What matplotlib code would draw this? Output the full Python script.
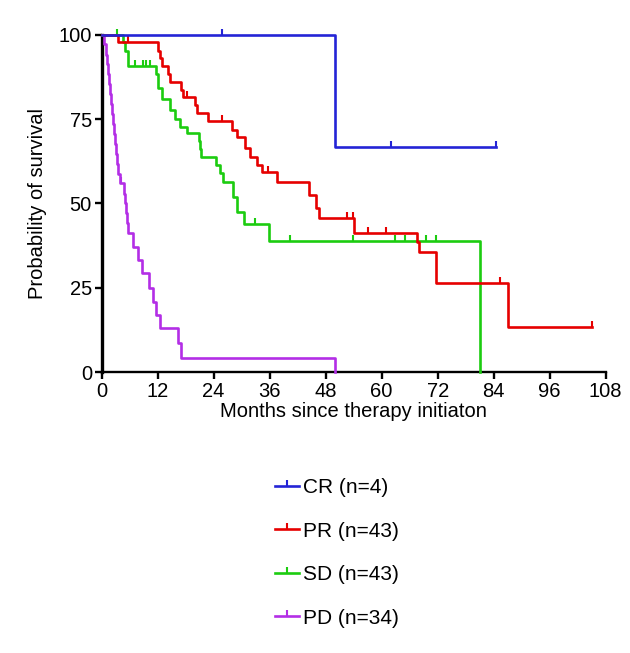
import numpy as np
import matplotlib
matplotlib.use("Agg")
import matplotlib.pyplot as plt
from matplotlib.path import Path
from matplotlib.lines import Line2D

plt.rcParams['font.family'] = ['Liberation Sans', 'DejaVu Sans']

# Kaplan-Meier curves: event times (months) and survival (%) after each event
cr_t = [50.0]
cr_s = [66.7]
cr_end = 84.5
cr_cens = [25.8, 62.1, 84.5]

pr_t = [3.5, 12.0, 12.5, 13.0, 14.3, 14.6, 17.0, 17.5, 20.0, 20.4, 22.8, 27.9, 28.9,
        30.7, 31.8, 33.2, 34.3, 37.5, 44.5, 45.9, 46.6, 54.1, 67.5, 68.0, 71.6, 87.1]
pr_s = [97.7, 95.3, 93.0, 90.7, 88.4, 86.0, 83.7, 81.4, 79.1, 76.7, 74.4, 71.7, 69.8,
        66.3, 63.8, 61.4, 59.3, 56.2, 52.5, 48.5, 45.6, 41.1, 38.4, 35.7, 26.5, 13.4]
pr_end = 105.1
pr_cens = [5.6, 18.2, 25.8, 35.7, 52.5, 53.8, 57.1, 60.9, 85.3, 105.1]

sd_t = [4.5, 5.0, 5.6, 11.6, 12.0, 12.9, 14.6, 15.7, 16.8, 18.2, 20.9, 21.1, 21.3,
        24.6, 25.3, 26.0, 28.2, 29.1, 30.5, 35.8, 81.0]
sd_s = [97.7, 95.3, 90.7, 88.4, 84.1, 80.9, 77.7, 74.9, 72.6, 70.8, 68.4, 66.1, 63.8,
        61.4, 59.0, 56.3, 52.0, 47.5, 43.8, 38.8, 0.0]
sd_end = 81.0
sd_cens = [3.2, 7.2, 8.9, 9.6, 10.3, 32.8, 40.3, 53.8, 62.8, 65.0, 69.6, 71.6]

pd_t = [0.4, 0.9, 1.2, 1.4, 1.6, 1.8, 2.0, 2.2, 2.4, 2.6, 2.8, 3.0, 3.2, 3.6, 3.9,
        4.8, 5.1, 5.3, 5.5, 5.7, 6.8, 7.8, 8.6, 10.1, 11.1, 11.6, 12.5, 16.4, 17.0, 50.0]
pd_s = [97.1, 94.1, 91.2, 88.2, 85.3, 82.4, 79.4, 76.5, 73.5, 70.6, 67.6, 64.7, 61.8, 58.8, 55.9,
        52.9, 50.0, 47.1, 44.1, 41.2, 37.1, 33.2, 29.3, 24.8, 20.8, 16.9, 13.0, 8.5, 4.3, 0.0]
pd_end = 50.0
pd_cens = [4.2]

labels = ["CR (n=4)", "PR (n=43)", "SD (n=43)", "PD (n=34)"]
colors = ["#2424d6", "#e60000", "#1ccc10", "#b32ee6"]

x_ticks = list(range(0, 109, 12))
y_ticks = [0, 25, 50, 75, 100]

# censor tick pointing upward from the curve
tick = Path([(0, 0), (0, 1)], [Path.MOVETO, Path.LINETO])


def km_xy(t, s, end):
    xs = [0.0] + list(t)
    ys = [100.0] + list(s)
    if end > xs[-1]:
        xs.append(end)
        ys.append(ys[-1])
    return np.array(xs), np.array(ys)


def surv_at(t, s, x):
    val = 100.0
    for ti, si in zip(t, s):
        if ti <= x:
            val = si
    return val


fig = plt.figure(figsize=(6.3, 6.53), dpi=100)
ax = fig.add_axes([0.1614, 0.4303, 0.8, 0.5166])

curves = [(cr_t, cr_s, cr_end, cr_cens), (pr_t, pr_s, pr_end, pr_cens),
          (sd_t, sd_s, sd_end, sd_cens), (pd_t, pd_s, pd_end, pd_cens)]
order = [3, 2, 1, 0]
for i in order:
    t, s, end, cens = curves[i]
    xs, ys = km_xy(t, s, end)
    ax.step(xs, ys, where='post', color=colors[i], lw=1.9, clip_on=False, zorder=3 + (3 - i))
    cy = [surv_at(t, s, c) for c in cens]
    ax.plot(cens, cy, ls='none', marker=tick, ms=9, mew=1.5, color=colors[i],
            clip_on=False, zorder=3 + (3 - i))

ax.set_xlim(0, 108)
ax.set_ylim(0, 100)
ax.set_xticks(x_ticks)
ax.set_yticks(y_ticks)
ax.spines['top'].set_visible(False)
ax.spines['right'].set_visible(False)
ax.spines['left'].set_linewidth(2.4)
ax.spines['bottom'].set_linewidth(1.7)
ax.tick_params(axis='both', direction='out', length=5, width=1.7, labelsize=14.5, pad=2)
ax.set_xlabel("Months since therapy initiaton", fontsize=14.5, labelpad=1)
ax.set_ylabel("Probability of survival", fontsize=14.5, labelpad=8)

handles = [Line2D([0], [0], color=c, lw=1.9, marker=tick, ms=8, mew=1.5) for c in colors]
fig.legend(handles, labels, loc='upper left', bbox_to_anchor=(0.4362, 0.2674),
           frameon=False, fontsize=15, handlelength=1.15, handletextpad=0.2,
           labelspacing=1.17, borderpad=0, borderaxespad=0, numpoints=1)

fig.savefig("out.png", dpi=100)
